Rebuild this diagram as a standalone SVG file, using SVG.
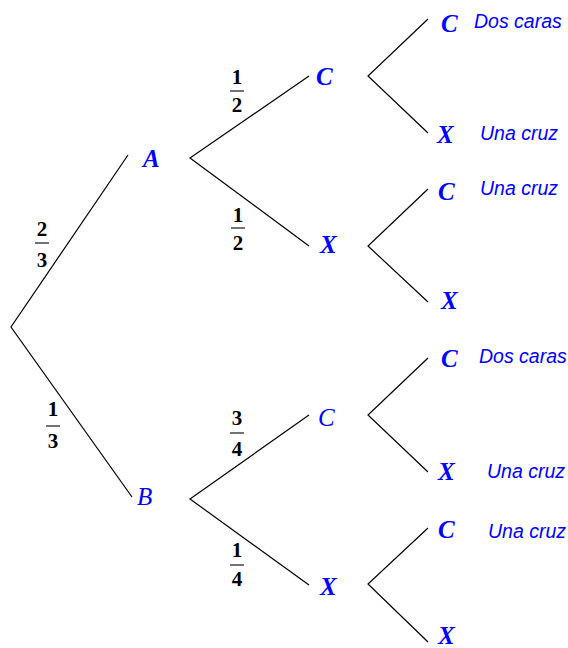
<svg xmlns="http://www.w3.org/2000/svg" width="568" height="648" viewBox="0 0 568 648">
<style>
.edge{stroke:#000;stroke-width:1.2;fill:none}
.node{font-family:"Liberation Serif",serif;font-style:italic;font-weight:bold;font-size:25px;fill:#0000ff}
.node.reg{font-weight:normal}
.out{font-family:"Liberation Sans",Arial,sans-serif;font-style:italic;font-size:19.5px;fill:#0000ff}
.frac{font-family:"Liberation Serif",serif;font-weight:bold;font-size:21px;fill:#000;text-anchor:middle}
.bar{stroke:#000;stroke-width:1.1}
</style>
<rect width="568" height="648" fill="#fff"/>
<g id="connectors">
<path class="edge" d="M128,155 L11,327 L132,497"/>
<path class="edge" d="M309,76 L190,158 L309,246"/>
<path class="edge" d="M309,415 L190,499 L309,585"/>
<path class="edge" d="M428,19 L368,76 L428,133"/>
<path class="edge" d="M428,189 L368,246 L428,302"/>
<path class="edge" d="M428,358 L368,415 L428,472"/>
<path class="edge" d="M428,528 L368,584 L428,642"/>
</g>
<g id="probs">
<g id="p-A"><text class="frac" x="42" y="236">2</text><line class="bar" x1="35" y1="243" x2="49" y2="243"/><text class="frac" x="42" y="267">3</text></g>
<g id="p-B"><text class="frac" x="53" y="416">1</text><line class="bar" x1="46" y1="426" x2="60" y2="426"/><text class="frac" x="53" y="448">3</text></g>
<g id="p-AC"><text class="frac" x="237" y="84">1</text><line class="bar" x1="230" y1="91" x2="244" y2="91"/><text class="frac" x="237" y="112">2</text></g>
<g id="p-AX"><text class="frac" x="238" y="222">1</text><line class="bar" x1="231" y1="228" x2="245" y2="228"/><text class="frac" x="238" y="250">2</text></g>
<g id="p-BC"><text class="frac" x="237" y="425">3</text><line class="bar" x1="230" y1="433" x2="244" y2="433"/><text class="frac" x="237" y="456">4</text></g>
<g id="p-BX"><text class="frac" x="237" y="557">1</text><line class="bar" x1="230" y1="565" x2="244" y2="565"/><text class="frac" x="237" y="586">4</text></g>
</g>
<g id="A"><text class="node" x="143" y="167">A</text></g>
<g id="B"><text class="node reg" x="137" y="505">B</text></g>
<g id="AC"><text class="node" x="316" y="85">C</text></g>
<g id="AX"><text class="node" x="320" y="253">X</text></g>
<g id="BC"><text class="node reg" x="318" y="426">C</text></g>
<g id="BX"><text class="node" x="320" y="595">X</text></g>
<g id="ACC"><text class="node" x="441" y="32">C</text><text class="out" x="474" y="28">Dos caras</text></g>
<g id="ACX"><text class="node" x="437" y="143">X</text><text class="out" x="480" y="140">Una cruz</text></g>
<g id="AXC"><text class="node" x="438" y="200">C</text><text class="out" x="480" y="195">Una cruz</text></g>
<g id="AXX"><text class="node" x="441" y="309">X</text></g>
<g id="BCC"><text class="node" x="441" y="367">C</text><text class="out" x="479" y="363">Dos caras</text></g>
<g id="BCX"><text class="node" x="438" y="480">X</text><text class="out" x="487" y="478">Una cruz</text></g>
<g id="BXC"><text class="node" x="438" y="538">C</text><text class="out" x="488" y="538">Una cruz</text></g>
<g id="BXX"><text class="node" x="438" y="644">X</text></g>
</svg>
